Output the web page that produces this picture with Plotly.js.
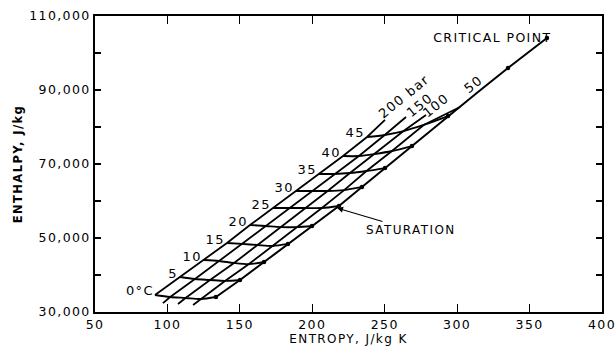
<!DOCTYPE html>
<html><head><meta charset="utf-8">
<script src="https://cdn.plot.ly/plotly-3.0.1.min.js"></script>
<style>
html,body{margin:0;padding:0;background:#fff;}
#chart{width:616px;height:349px;}
#chart svg text{letter-spacing:1.4px;}
</style></head><body><div id="chart"></div>
<script>
// Isotherm temperatures and labels
const temps = [0, 5, 10, 15, 20, 25, 30, 35, 40, 45];
const tempLabels = ['0°C', '5', '10', '15', '20', '25', '30', '35', '40', '45'];
const pressureLabels = ['200 bar', '150', '100', '50'];

// Entropy (J/kg K) and enthalpy (J/kg) at each isotherm, per isobar
const s200 = [91.4, 108.7, 125.2, 141.1, 157.0, 172.9, 188.8, 204.6, 221.2, 237.8];
const h200 = [34600, 39450, 44050, 48650, 53500, 58100, 62700, 67300, 72150, 77300];
const s150 = [101.9, 119.0, 135.6, 151.6, 167.7, 184.3, 199.7, 215.1, 232.2, 250.0];
const h150 = [34050, 38900, 43800, 48400, 53250, 58100, 62700, 67300, 72150, 77850];
const s100 = [112.5, 129.4, 146.0, 162.2, 178.4, 195.2, 210.6, 226.0, 243.1, 263.0];
const h100 = [33800, 38650, 43250, 48100, 52950, 58100, 62700, 67550, 72700, 78900];
const s50  = [123.0, 139.7, 156.3, 172.7, 189.1, 206.6, 222.0, 237.4, 255.0, 276.9];
const h50  = [33500, 38400, 42950, 47850, 52950, 58100, 62950, 68100, 73500, 80550];
// Saturated liquid at each isotherm
const satS = [133.5, 150.1, 166.7, 183.2, 199.8, 218.4, 234.3, 250.2, 268.8, 293.7];
const satH = [34050, 38650, 43500, 48400, 53250, 58650, 63800, 68900, 74850, 82950];
// Saturation line above 45 °C up to the critical point
const satUpS = [302.0, 314.4, 335.1, 362.0];
const satUpH = [85400, 89450, 95950, 104050];
// Isobar end points (200, 150, 100, 50 bar)
const isobarTopS = [250.2, 264.7, 278.5, 302.0];
const isobarTopH = [81900, 82700, 83250, 85400];
const isobarBotS = [null, 96.9, 107.3, 117.7];
const isobarBotH = [null, 32400, 32150, 31900];

const F = 'DejaVu Sans, sans-serif';
const black = '#000';
const isoS = [s200, s150, s100, s50];
const isoH = [h200, h150, h100, h50];

const traces = [];
// isobars
for (let k = 0; k < 4; k++) {
  const xs = [], ys = [];
  if (isobarBotS[k] !== null) { xs.push(isobarBotS[k]); ys.push(isobarBotH[k]); }
  xs.push(...isoS[k]); ys.push(...isoH[k]);
  xs.push(isobarTopS[k]); ys.push(isobarTopH[k]);
  traces.push({x: xs, y: ys, mode: 'lines', line: {color: black, width: 1.8}, hoverinfo: 'skip'});
}
// isotherms
for (let i = 0; i < temps.length; i++) {
  traces.push({
    x: [s200[i], s150[i], s100[i], s50[i], satS[i]],
    y: [h200[i], h150[i], h100[i], h50[i], satH[i]],
    mode: 'lines', line: {color: black, width: 1.9, shape: 'spline', smoothing: 0.8}, hoverinfo: 'skip'
  });
}
// saturation line
traces.push({
  x: satS.concat(satUpS), y: satH.concat(satUpH),
  mode: 'lines', line: {color: black, width: 2}, hoverinfo: 'skip'
});
// saturation dots
traces.push({
  x: satS.concat([satUpS[2], satUpS[3]]), y: satH.concat([satUpH[2], satUpH[3]]),
  mode: 'markers', marker: {color: black, size: 4.5}, hoverinfo: 'skip'
});

const annotations = [];
for (let i = 0; i < temps.length; i++) {
  annotations.push({
    x: s200[i], y: h200[i], xref: 'x', yref: 'y', text: tempLabels[i], showarrow: false,
    xanchor: 'right', yanchor: 'middle', xshift: -1, yshift: 4,
    font: {family: F, size: 13, color: black}
  });
}
const pShift = [[19, 23], [13, 12], [10, 9]];
for (let k = 0; k < 3; k++) {
  annotations.push({
    x: isobarTopS[k], y: isobarTopH[k], xref: 'x', yref: 'y', text: pressureLabels[k], showarrow: false,
    xanchor: 'center', yanchor: 'middle', xshift: pShift[k][0], yshift: pShift[k][1], textangle: -39,
    font: {family: F, size: 13, color: black}
  });
}
annotations.push({
  x: satUpS[1], y: satUpH[1], xref: 'x', yref: 'y', text: pressureLabels[3], showarrow: false,
  xanchor: 'center', yanchor: 'middle', xshift: -5, yshift: 8, textangle: -39,
  font: {family: F, size: 13, color: black}
});
annotations.push({
  x: satUpS[3], y: satUpH[3], xref: 'x', yref: 'y', text: 'CRITICAL POINT', showarrow: false,
  xanchor: 'right', yanchor: 'middle', xshift: -3, yshift: 1,
  font: {family: F, size: 12.5, color: black}
});
annotations.push({
  x: 217.1, y: 58100, xref: 'x', yref: 'y', text: 'SATURATION', showarrow: true,
  ax: 74, ay: 22, arrowhead: 2, arrowsize: 1, arrowwidth: 1.2, arrowcolor: black,
  font: {family: F, size: 12, color: black}
});

const layout = {
  width: 616, height: 349,
  margin: {l: 95, r: 14, t: 16, b: 37},
  paper_bgcolor: '#fff', plot_bgcolor: '#fff',
  showlegend: false,
  font: {family: F, color: black},
  xaxis: {
    range: [50, 400], tick0: 50, dtick: 50,
    ticks: 'inside', ticklen: 8, tickwidth: 1.2, tickcolor: black,
    showline: true, linewidth: 1.8, linecolor: black, mirror: 'ticks',
    showgrid: false, zeroline: false,
    tickfont: {family: F, size: 12.5, color: black},
    title: {text: 'ENTROPY, J/kg K', font: {family: F, size: 12, color: black}, standoff: 3}
  },
  yaxis: {
    range: [30000, 110000], tick0: 30000, dtick: 20000, tickformat: ',',
    ticks: 'inside', ticklen: 6, tickwidth: 1.2, tickcolor: black,
    minor: {dtick: 10000, ticks: 'inside', ticklen: 6, tickwidth: 1.2, tickcolor: black},
    showline: true, linewidth: 1.8, linecolor: black, mirror: 'ticks',
    showgrid: false, zeroline: false,
    tickfont: {family: F, size: 12.5, color: black},
    title: {text: '<b>ENTHALPY, J/kg</b>', font: {family: F, size: 11.5, color: black}, standoff: 14}
  },
  annotations: annotations
};

Plotly.newPlot('chart', traces, layout, {displayModeBar: false, staticPlot: true});
</script></body></html>
